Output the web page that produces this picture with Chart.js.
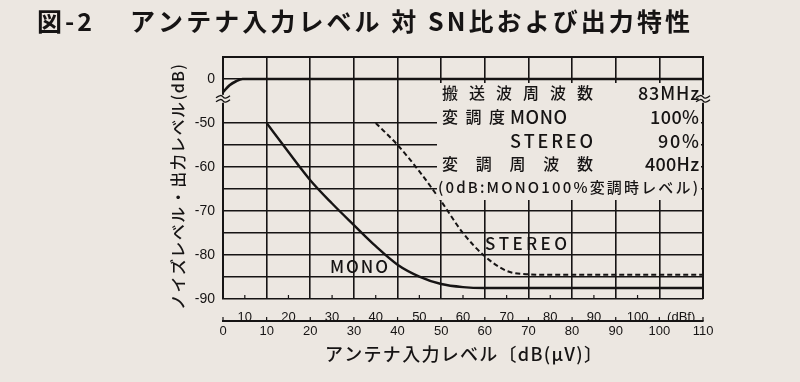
<!DOCTYPE html>
<html>
<head>
<meta charset="utf-8">
<script src="https://cdn.jsdelivr.net/npm/chart.js@4.4.1/dist/chart.umd.min.js"></script>
<style>
  html, body { margin: 0; padding: 0; background: #ece7e1; }
  canvas { display: block; }
</style>
</head>
<body>
<canvas id="sn-chart" width="800" height="382"></canvas>
<script>
// antenna input level in dB(uV) and the readings
const monoInput = [10, 15, 20, 25, 30, 35, 40, 45, 50, 55, 60, 110];
const monoNoise = [-50, -56.6, -63, -68.3, -73.2, -78, -82.2, -84.9, -86.6, -87.3, -87.5, -87.5];
const stereoInput = [35, 40, 45, 50, 55, 60, 65, 70, 75, 110];
const stereoNoise = [-50, -55, -61, -67.8, -75, -80.3, -83.6, -84.4, -84.5, -84.5];
// output level (0 dB) is drawn in the broken part of the axis, 0 dB sits at -40
const outputInput = [0, 1.5, 3, 4.5, 110];
const outputLevel = [-3, -1.4, -0.5, 0, 0];
const outputOffset = -40;

// tick labels
const yTicks = [-90, -85, -80, -75, -70, -65, -60, -55, -50, -40];
const dbuvTicks = [0, 10, 20, 30, 40, 50, 60, 70, 80, 90, 100, 110];
const dbfTicks = [10, 20, 30, 40, 50, 60, 70, 80, 90, 100, 110];
const dbfOffset = 5; // dBf = dB(uV) + 5 on this sheet

const paper = '#ece7e1';
const ink = '#161414';
const jp = '"Noto Sans CJK JP", "Noto Sans", sans-serif';
const num = '"Liberation Sans", Arial, sans-serif';

const toPoints = (xs, ys, off = 0) => xs.map((x, i) => ({ x: x, y: ys[i] + off }));

// draw a string stretched between x0 and x1
function spread(ctx, str, x0, x1, y) {
    const chars = [...str];
    const widths = chars.map(c => ctx.measureText(c).width);
    const total = widths.reduce((a, b) => a + b, 0);
    const gap = chars.length > 1 ? (x1 - x0 - total) / (chars.length - 1) : 0;
    let x = x0;
    ctx.textAlign = 'left';
    ctx.textBaseline = 'middle';
    chars.forEach((c, i) => {
        ctx.fillText(c, x, y);
        x += widths[i] + gap;
    });
}

function breakMark(ctx, x, y) {
    ctx.fillStyle = paper;
    ctx.fillRect(x - 6, y - 4, 12, 8);
    ctx.strokeStyle = ink;
    ctx.lineWidth = 1.3;
    [-2, 2].forEach(d => {
        ctx.beginPath();
        ctx.moveTo(x - 7, y + d + 1);
        ctx.quadraticCurveTo(x - 2, y + d - 3, x, y + d);
        ctx.quadraticCurveTo(x + 2, y + d + 3, x + 7, y + d - 1);
        ctx.stroke();
    });
}

const decor = {
    id: 'decor',
    beforeDraw(chart) {
        const ctx = chart.ctx;
        ctx.save();
        ctx.fillStyle = paper;
        ctx.fillRect(0, 0, chart.width, chart.height);
        ctx.restore();
    },
    afterDraw(chart) {
        const { ctx, chartArea: a, scales } = chart;
        const xs = scales.x, x2 = scales.x2, ys = scales.y;
        ctx.save();

        // paper behind the condition notes
        const boxTop = ys.getPixelForValue(outputOffset) + 4;
        ctx.fillStyle = paper;
        ctx.fillRect(437, boxTop, a.right - 439, ys.getPixelForValue(-67.5) - boxTop);

        // frame top and right
        ctx.strokeStyle = ink;
        ctx.lineWidth = 2;
        ctx.beginPath();
        ctx.moveTo(a.left, a.top);
        ctx.lineTo(a.right, a.top);
        ctx.lineTo(a.right, a.bottom);
        ctx.stroke();

        // small upward tick marks on both input scales
        ctx.lineWidth = 1.2;
        dbuvTicks.forEach(v => {
            const px = xs.getPixelForValue(v);
            ctx.beginPath();
            ctx.moveTo(px, xs.top);
            ctx.lineTo(px, xs.top - 4);
            ctx.stroke();
        });
        dbfTicks.slice(0, -1).forEach(v => {
            const px = x2.getPixelForValue(v);
            ctx.beginPath();
            ctx.moveTo(px, a.bottom);
            ctx.lineTo(px, a.bottom - 4);
            ctx.stroke();
        });

        // axis break marks
        const by = ys.getPixelForValue(-44.5);
        breakMark(ctx, a.left, by);
        breakMark(ctx, a.right, by);

        ctx.fillStyle = ink;

        // title
        ctx.font = 'bold 25px ' + jp;
        spread(ctx, '図-2', 37, 92, 21);
        spread(ctx, 'アンテナ入力レベル 対 SN比および出力特性', 130, 690, 21);

        // condition notes
        ctx.font = '500 16px ' + jp;
        spread(ctx, '搬送波周波数', 442, 593, 93);
        spread(ctx, '変調度', 442, 505, 117);
        spread(ctx, '変調周波数', 442, 593, 164);
        ctx.font = '500 18px ' + jp;
        spread(ctx, '83MHz', 638, 699, 93);
        spread(ctx, 'MONO', 510, 567, 117);
        spread(ctx, '100%', 650, 699, 117);
        spread(ctx, 'STEREO', 510, 593, 141);
        spread(ctx, '90%', 658, 699, 141);
        spread(ctx, '400Hz', 645, 699, 164);
        ctx.font = '500 15px ' + jp;
        spread(ctx, '(0dB:MONO100%変調時レベル)', 438, 698, 187);

        // curve labels
        ctx.font = '500 17px ' + jp;
        spread(ctx, 'MONO', 330, 388, 267);
        spread(ctx, 'STEREO', 485, 567, 244);

        // axis titles
        ctx.font = '500 18px ' + jp;
        spread(ctx, 'アンテナ入力レベル〔dB(μV)〕', 325, 602, 354);
        ctx.translate(178, 186);
        ctx.rotate(-Math.PI / 2);
        ctx.font = '500 16px ' + jp;
        spread(ctx, 'ノイズレベル・出力レベル(dB)', -124, 122, 0);

        ctx.restore();
    }
};

const ctx = document.getElementById('sn-chart').getContext('2d');
new Chart(ctx, {
    type: 'line',
    data: {
        datasets: [
            {
                label: 'Output',
                data: toPoints(outputInput, outputLevel, outputOffset),
                borderColor: ink,
                borderWidth: 2.6,
                cubicInterpolationMode: 'monotone',
                pointRadius: 0,
            },
            {
                label: 'MONO',
                data: toPoints(monoInput, monoNoise),
                borderColor: ink,
                borderWidth: 2.4,
                cubicInterpolationMode: 'monotone',
                pointRadius: 0,
            },
            {
                label: 'STEREO',
                data: toPoints(stereoInput, stereoNoise),
                borderColor: ink,
                borderWidth: 2,
                borderDash: [5, 3],
                cubicInterpolationMode: 'monotone',
                pointRadius: 0,
            },
        ],
    },
    options: {
        responsive: false,
        animation: false,
        layout: { padding: { top: 57, right: 97, left: 0, bottom: 0 } },
        plugins: {
            legend: { display: false },
            tooltip: { enabled: false },
        },
        scales: {
            x: {
                type: 'linear',
                position: 'bottom',
                weight: 1,
                min: 0,
                max: 110,
                afterBuildTicks: s => { s.ticks = dbuvTicks.map(v => ({ value: v })); },
                afterFit: s => { s.height = 61; },
                ticks: {
                    color: ink,
                    padding: 3,
                    maxRotation: 0,
                    font: { family: num, size: 13 },
                },
                grid: { color: ink, lineWidth: 1.6, drawTicks: false },
                border: { display: true, color: ink, width: 2 },
            },
            x2: {
                type: 'linear',
                position: 'bottom',
                weight: 0,
                min: dbfOffset,
                max: 110 + dbfOffset,
                afterBuildTicks: s => { s.ticks = dbfTicks.map(v => ({ value: v })); },
                afterFit: s => { s.height = 22; },
                ticks: {
                    color: ink,
                    padding: 3,
                    maxRotation: 0,
                    font: { family: num, size: 13 },
                    callback: v => (v === 110 ? '(dBf)' : String(v)),
                },
                grid: { display: false },
                border: { display: false },
            },
            y: {
                type: 'linear',
                min: -90,
                max: -35,
                afterBuildTicks: s => { s.ticks = yTicks.map(v => ({ value: v })); },
                afterFit: s => { s.width = 223; },
                ticks: {
                    color: ink,
                    padding: 8,
                    font: { family: num, size: 14 },
                    callback: v => (v === outputOffset ? '0' : (v % 10 === 0 ? String(v) : '')),
                },
                grid: { color: ink, lineWidth: 1.6, drawTicks: false },
                border: { display: true, color: ink, width: 2 },
            },
        },
    },
    plugins: [decor],
});
</script>
</body>
</html>
